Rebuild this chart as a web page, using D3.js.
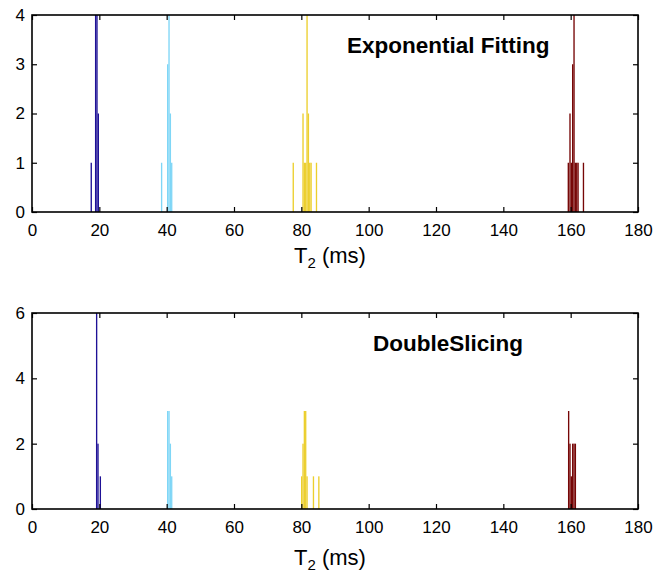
<!DOCTYPE html>
<html>
<head>
<meta charset="utf-8">
<script src="https://cdn.jsdelivr.net/npm/d3@7"></script>
<style>
  body { margin: 0; background: #fff; }
  text { font-family: "Liberation Sans", Arial, sans-serif; }
</style>
</head>
<body>
<svg id="chart" width="654" height="572"></svg>
<script>
// T2 histogram bins (ms) and counts
var binWidth = 0.4;
var xTicks = [0, 20, 40, 60, 80, 100, 120, 140, 160, 180];

// Exponential Fitting panel
var expBlueT = [17.6, 18.9, 19.3, 19.7];
var expBlueN = [1, 4, 4, 2];
var expCyanT = [38.5, 40.3, 40.7, 41.1, 41.5];
var expCyanN = [1, 3, 4, 2, 1];
var expYellowT = [77.6, 80.5, 80.9, 81.3, 81.7, 82.1, 82.5, 82.9, 84.5];
var expYellowN = [1, 2, 1, 1, 4, 2, 1, 1, 1];
var expRedT = [159.3, 159.8, 160.2, 160.6, 161.0, 161.4, 161.8, 162.2, 163.8];
var expRedN = [1, 2, 1, 3, 4, 1, 1, 1, 1];
var expYTicks = [0, 1, 2, 3, 4];

// DoubleSlicing panel
var dsBlueT = [19.2, 19.6, 20.3];
var dsBlueN = [6, 2, 1];
var dsCyanT = [40.3, 40.7, 41.1, 41.5];
var dsCyanN = [3, 3, 2, 1];
var dsYellowT = [80.1, 80.5, 80.9, 81.3, 81.7, 83.6, 85.2];
var dsYellowN = [1, 2, 3, 3, 1, 1, 1];
var dsRedT = [159.4, 159.8, 160.2, 160.6, 161.0, 161.4];
var dsRedN = [3, 2, 1, 2, 2, 2];
var dsYTicks = [0, 2, 4, 6];

var colors = { blue: "#1e1196", cyan: "#7fd6f6", yellow: "#eccf2e", red: "#760606" };

var svg = d3.select("#chart");
svg.append("rect").attr("width", 654).attr("height", 572).attr("fill", "#fff");

var zip = function(ts, ns) {
    return ts.map(function(t, i) { return { t: t, n: ns[i] }; });
};

var drawPanel = function(opts) {
    var x = d3.scaleLinear().domain([0, 180]).range([32, 638]);
    var y = d3.scaleLinear().domain([0, opts.ymax]).range([opts.bottom, opts.top]);
    var g = svg.append("g");

    opts.series.forEach(function(s) {
        g.append("g").selectAll("rect")
            .data(zip(s.t, s.n))
            .enter().append("rect")
            .attr("x", function(d) { return x(d.t - binWidth / 2); })
            .attr("width", function(d) { return x(d.t + binWidth / 2) - x(d.t - binWidth / 2); })
            .attr("y", function(d) { return y(d.n); })
            .attr("height", function(d) { return y(0) - y(d.n); })
            .attr("fill", s.color);
    });

    // axes, ticks inward like matlab
    var bottomAx = g.append("g").attr("transform", "translate(0," + opts.bottom + ")")
        .call(d3.axisBottom(x).tickValues(xTicks).tickSizeInner(-5).tickSizeOuter(0).tickPadding(12).tickFormat(d3.format("d")));
    var leftAx = g.append("g").attr("transform", "translate(32,0)")
        .call(d3.axisLeft(y).tickValues(opts.yticks).tickSizeInner(-5).tickSizeOuter(0).tickPadding(7).tickFormat(d3.format("d")));
    var topAx = g.append("g").attr("transform", "translate(0," + opts.top + ")")
        .call(d3.axisTop(x).tickValues(xTicks).tickSizeInner(-5).tickSizeOuter(0).tickFormat(""));
    var rightAx = g.append("g").attr("transform", "translate(638,0)")
        .call(d3.axisRight(y).tickValues(opts.yticks).tickSizeInner(-5).tickSizeOuter(0).tickFormat(""));

    [bottomAx, leftAx, topAx, rightAx].forEach(function(a) {
        a.select(".domain").remove();
        a.selectAll("line").attr("stroke", "#000").attr("stroke-width", 1.2);
        a.selectAll("text").attr("font-size", "17px").attr("fill", "#000")
            .style("font-family", "'Liberation Sans', Arial, sans-serif");
    });

    g.append("rect")
        .attr("x", 32).attr("y", opts.top)
        .attr("width", 638 - 32).attr("height", opts.bottom - opts.top)
        .attr("fill", "none").attr("stroke", "#000").attr("stroke-width", 1.6);

    g.append("text")
        .attr("x", opts.titleX).attr("y", opts.titleY)
        .attr("font-size", "22.5px").attr("font-weight", "bold")
        .text(opts.title);

    var xl = g.append("text")
        .attr("x", 330).attr("y", opts.labelY)
        .attr("text-anchor", "middle").attr("font-size", "22px");
    xl.append("tspan").text("T");
    xl.append("tspan").attr("font-size", "15px").attr("dy", 5).text("2");
    xl.append("tspan").attr("dy", -5).text(" (ms)");
};

drawPanel({
    top: 15, bottom: 212, ymax: 4, yticks: expYTicks,
    title: "Exponential Fitting", titleX: 347, titleY: 53, labelY: 263,
    series: [
        { t: expBlueT, n: expBlueN, color: colors.blue },
        { t: expCyanT, n: expCyanN, color: colors.cyan },
        { t: expYellowT, n: expYellowN, color: colors.yellow },
        { t: expRedT, n: expRedN, color: colors.red }
    ]
});

drawPanel({
    top: 313, bottom: 509, ymax: 6, yticks: dsYTicks,
    title: "DoubleSlicing", titleX: 373, titleY: 351, labelY: 565,
    series: [
        { t: dsBlueT, n: dsBlueN, color: colors.blue },
        { t: dsCyanT, n: dsCyanN, color: colors.cyan },
        { t: dsYellowT, n: dsYellowN, color: colors.yellow },
        { t: dsRedT, n: dsRedN, color: colors.red }
    ]
});
</script>
</body>
</html>
